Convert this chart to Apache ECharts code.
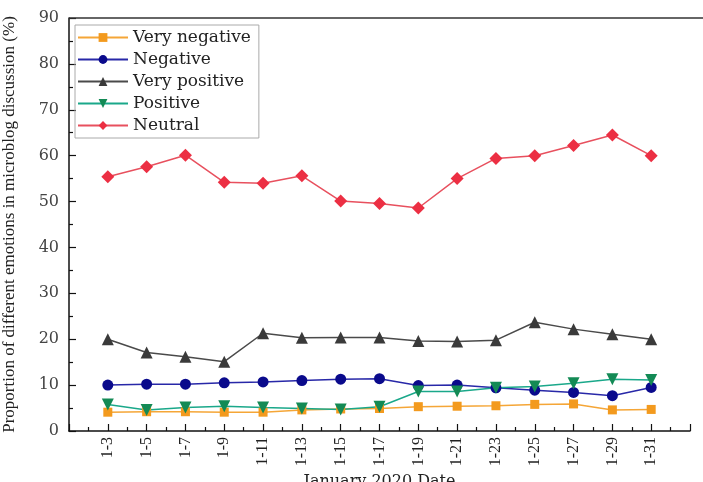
<!DOCTYPE html>
<html>
<head>
<meta charset="utf-8">
<script src="https://cdn.jsdelivr.net/npm/echarts@6/dist/echarts.min.js"></script>
<style>
  html, body { margin: 0; padding: 0; background: #fff; }
  #chart { width: 703px; height: 482px; }
</style>
</head>
<body>
<div id="chart"></div>
<script>
// Dates of January 2020 (every second day)
const dates = ['1-3', '1-5', '1-7', '1-9', '1-11', '1-13', '1-15', '1-17',
               '1-19', '1-21', '1-23', '1-25', '1-27', '1-29', '1-31'];

// Share of each emotion in microblog posts (%)
const veryNegative = [4.1, 4.2, 4.2, 4.1, 4.1, 4.6, 4.8, 4.9, 5.3, 5.4, 5.5, 5.8, 5.9, 4.6, 4.7];
const negative     = [10.0, 10.2, 10.2, 10.5, 10.7, 11.0, 11.3, 11.4, 9.9, 10.0, 9.4, 8.9, 8.4, 7.7, 9.5];
const veryPositive = [20.0, 17.1, 16.2, 15.1, 21.3, 20.3, 20.4, 20.4, 19.6, 19.5, 19.8, 23.7, 22.2, 21.1, 20.0];
const positive     = [5.8, 4.6, 5.1, 5.4, 5.1, 4.9, 4.7, 5.3, 8.6, 8.6, 9.4, 9.7, 10.4, 11.3, 11.1];
const neutral      = [55.4, 57.6, 60.1, 54.2, 54.0, 55.6, 50.1, 49.6, 48.6, 55.0, 59.4, 60.0, 62.2, 64.5, 60.0];

const FONT = 'DejaVu Serif';
const day = s => parseInt(s.split('-')[1], 10);
const pairs = vals => dates.map((d, i) => [day(d), vals[i]]);

function series(name, vals, symbol, size, markerColor, lineColor, rotate) {
  return {
    name, type: 'line', data: pairs(vals),
    symbol, symbolSize: size, symbolRotate: rotate || 0,
    itemStyle: { color: markerColor },
    lineStyle: { color: lineColor, width: 1.5 },
    z: 3
  };
}

const chart = echarts.init(document.getElementById('chart'), null, { renderer: 'canvas' });
chart.setOption({
  animation: false,
  backgroundColor: '#fff',
  grid: { left: 69, right: 13, top: 18, bottom: 51, containLabel: false, outerBoundsMode: 'none' },
  legend: {
    left: 75, top: 25, orient: 'vertical',
    itemWidth: 50, itemHeight: 11, itemGap: 5,
    padding: [4, 8, 4, 2],
    borderColor: '#aaa', borderWidth: 1,
    textStyle: { fontFamily: FONT, fontSize: 17, color: '#222' },
    data: ['Very negative', 'Negative', 'Very positive', 'Positive', 'Neutral']
  },
  xAxis: {
    type: 'value', min: 1, max: 33, interval: 2,
    name: 'January 2020 Date', nameLocation: 'middle', nameGap: 41,
    nameTextStyle: { fontFamily: FONT, fontSize: 16, color: '#222' },
    axisLine: { lineStyle: { color: '#111', width: 1.5 } },
    axisTick: { inside: true, length: 7, lineStyle: { color: '#111', width: 1.2 } },
    minorTick: { show: true, splitNumber: 2, length: 4, lineStyle: { color: '#111', width: 1.2 } },
    splitLine: { show: false },
    axisLabel: {
      rotate: 90, margin: 6, fontFamily: 'Liberation Serif', fontSize: 16, color: '#222',
      formatter: v => { const s = '1-' + v; return dates.includes(s) ? s : ''; }
    }
  },
  yAxis: {
    type: 'value', min: 0, max: 90, interval: 10,
    name: 'Proportion of different emotions in microblog discussion (%)',
    nameLocation: 'middle', nameGap: 51, nameRotate: 90,
    nameTextStyle: { fontFamily: 'Liberation Serif', fontSize: 17, color: '#222' },
    axisLine: { show: true, lineStyle: { color: '#111', width: 1.5 } },
    axisTick: { inside: true, length: 7, lineStyle: { color: '#111', width: 1.2 } },
    minorTick: { show: true, splitNumber: 2, length: 4, lineStyle: { color: '#111', width: 1.2 } },
    splitLine: { show: false },
    axisLabel: { margin: 10, fontFamily: FONT, fontSize: 16, color: '#444' }
  },
  graphic: [{
    type: 'line', shape: { x1: 69, y1: 18, x2: 703, y2: 18 },
    style: { stroke: '#333', lineWidth: 1.5 }, z: 10
  }],
  series: [
    series('Very negative', veryNegative, 'rect', 9, '#f39a1e', '#f5a637'),
    series('Negative', negative, 'circle', 11, '#0a0a8c', '#2828a8'),
    series('Very positive', veryPositive, 'triangle', 12, '#3a3a3a', '#4a4a4a'),
    series('Positive', positive, 'triangle', 12, '#138a55', '#1aa88a', 180),
    series('Neutral', neutral, 'diamond', 13, '#ec2f43', '#e8505e')
  ]
});
</script>
</body>
</html>
